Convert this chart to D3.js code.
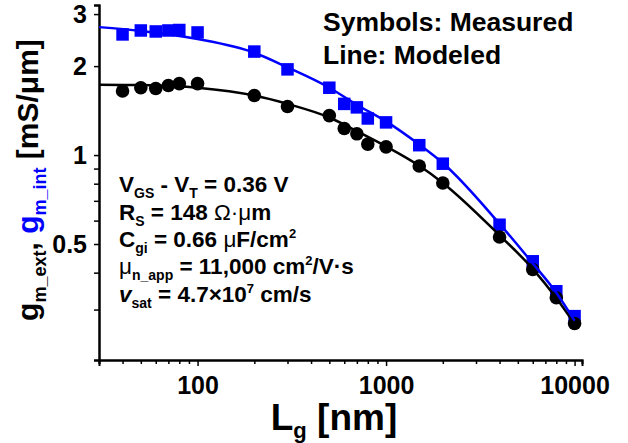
<!DOCTYPE html>
<html>
<head>
<meta charset="utf-8">
<script src="https://cdn.jsdelivr.net/npm/d3@7"></script>
<style>
  html, body { margin: 0; padding: 0; background: #fff; }
  svg { display: block; }
  text { font-family: Arial, "Liberation Sans", sans-serif; font-weight: bold; }
</style>
</head>
<body>
<svg id="chart" width="628" height="443"></svg>
<script>
// ---- data ----
const gateLength = [40, 50, 60, 70, 80, 100, 200, 300, 500, 600, 700, 800, 1000, 1500, 2000, 4000, 6000, 8000, 10000];
const gmIntMeasured = [2.56, 2.64, 2.62, 2.64, 2.65, 2.60, 2.24, 1.95, 1.69, 1.49, 1.45, 1.33, 1.29, 1.08, 0.935, 0.581, 0.437, 0.346, 0.285];
const gmExtMeasured = [1.647, 1.69, 1.68, 1.72, 1.745, 1.745, 1.59, 1.46, 1.36, 1.23, 1.18, 1.089, 1.066, 0.918, 0.804, 0.528, 0.41, 0.329, 0.269];

const modelLength = [30, 50, 100, 200, 300, 500, 700, 1000, 1500, 2000, 4000, 6000, 8000, 10000];
const gmIntModel = [2.71, 2.63, 2.47, 2.22, 1.98, 1.69, 1.48, 1.30, 1.085, 0.94, 0.585, 0.43, 0.342, 0.275];
const gmExtModel = [1.731, 1.725, 1.69, 1.59, 1.49, 1.34, 1.205, 1.07, 0.92, 0.805, 0.535, 0.412, 0.328, 0.268];

const xMajorTicks = [100, 1000, 10000];
const xMinorTicks = [30, 40, 50, 60, 70, 80, 90, 200, 300, 400, 500, 600, 700, 800, 900, 2000, 3000, 4000, 5000, 6000, 7000, 8000, 9000];
const yMajorTicks = [0.5, 1, 2, 3];
const yMinorTicks = [0.3, 0.4, 0.6, 0.7, 0.8, 0.9];

const BLUE = "#0000ff";
const BLACK = "#000000";

// ---- scales ----
const svg = d3.select("#chart");
const x = d3.scaleLog().domain([30, 10950]).range([99, 582]);
const y = d3.scaleLog().domain([0.2025, 3.22]).range([360, 5]);

// ---- axes ----
const xAxisMajor = d3.axisBottom(x).tickValues(xMajorTicks).tickSize(6).tickPadding(10).tickFormat(d3.format("d"));
const xAxisMinor = d3.axisBottom(x).tickValues(xMinorTicks).tickSize(4).tickFormat("");
const yAxisMajor = d3.axisLeft(y).tickValues(yMajorTicks).tickSize(5).tickPadding(7).tickFormat(d => String(d));
const yAxisMinor = d3.axisLeft(y).tickValues(yMinorTicks).tickSize(5).tickFormat("");

function styleAxis(g) {
  g.select(".domain").attr("stroke", BLACK).attr("stroke-width", 2);
  g.selectAll(".tick line").attr("stroke", BLACK).attr("stroke-width", 1.5);
  g.selectAll(".tick text").attr("fill", BLACK).style("font-size", "25px")
    .style("font-family", 'Arial, "Liberation Sans", sans-serif').style("font-weight", "bold");
}

svg.append("g").attr("transform", "translate(0,360)").call(xAxisMinor).call(styleAxis);
svg.append("g").attr("transform", "translate(0,360)").call(xAxisMajor).call(styleAxis);
svg.append("g").attr("transform", "translate(99,0)").call(yAxisMinor).call(styleAxis);
svg.append("g").attr("transform", "translate(99,0)").call(yAxisMajor).call(styleAxis);

// ---- markers ----
const measured = gateLength.map((L, i) => ({L, int: gmIntMeasured[i], ext: gmExtMeasured[i]}));
const sq = 12.5;
svg.append("g").selectAll("rect").data(measured).enter().append("rect")
  .attr("x", d => x(d.L) - sq / 2).attr("y", d => y(d.int) - sq / 2)
  .attr("width", sq).attr("height", sq).attr("fill", BLUE);
svg.append("g").selectAll("circle").data(measured).enter().append("circle")
  .attr("cx", d => x(d.L)).attr("cy", d => y(d.ext)).attr("r", 6.8).attr("fill", BLACK);

// ---- model lines ----
const model = modelLength.map((L, i) => ({L, int: gmIntModel[i], ext: gmExtModel[i]}));
const lineExt = d3.line().x(d => x(d.L)).y(d => y(d.ext)).curve(d3.curveMonotoneX);
const lineInt = d3.line().x(d => x(d.L)).y(d => y(d.int)).curve(d3.curveMonotoneX);
svg.append("path").datum(model).attr("d", lineExt).attr("fill", "none").attr("stroke", BLACK).attr("stroke-width", 2.5);
svg.append("path").datum(model).attr("d", lineInt).attr("fill", "none").attr("stroke", BLUE).attr("stroke-width", 2.5);

// ---- legend text ----
svg.append("text").attr("x", 323).attr("y", 31).style("font-size", "26.5px").text("Symbols: Measured");
svg.append("text").attr("x", 323).attr("y", 64).style("font-size", "26.5px").text("Line: Modeled");

// ---- parameter block ----
const params = svg.append("g").style("font-size", "22.5px");
function addLine(yPos, parts) {
  const t = params.append("text").attr("x", 119).attr("y", yPos);
  parts.forEach(p => {
    const ts = t.append("tspan").text(p.t);
    if (p.sub) ts.attr("dy", 6).style("font-size", "14px");
    if (p.sup) ts.attr("dy", -9).style("font-size", "13px");
    if (p.back) ts.attr("dy", p.back);
    if (p.it) ts.style("font-style", "italic");
    if (p.normal) ts.style("font-weight", "normal");
  });
}
addLine(192, [{t: "V"}, {t: "GS", sub: true}, {t: " - V", back: -6}, {t: "T", sub: true}, {t: " = 0.36 V", back: -6}]);
addLine(220, [{t: "R"}, {t: "S", sub: true}, {t: " = 148 ", back: -6}, {t: "Ω·μ", normal: true}, {t: "m"}]);
addLine(247, [{t: "C"}, {t: "gi", sub: true}, {t: " = 0.66 ", back: -6}, {t: "μ", normal: true}, {t: "F/cm"}, {t: "2", sup: true}]);
addLine(274, [{t: "μ", normal: true}, {t: "n_app", sub: true}, {t: " = 11,000 cm", back: -6}, {t: "2", sup: true}, {t: "/V·s", back: 9}]);
addLine(302, [{t: "v", it: true}, {t: "sat", sub: true}, {t: " = 4.7×10", back: -6}, {t: "7", sup: true}, {t: " cm/s", back: 9}]);

// ---- axis titles ----
const xt = svg.append("text").attr("x", 334).attr("y", 430).attr("text-anchor", "middle").style("font-size", "37px");
xt.append("tspan").text("L");
xt.append("tspan").text("g").attr("dy", 8).style("font-size", "22px");
xt.append("tspan").text(" [nm]").attr("dy", -8);

const yt = svg.append("text").attr("transform", "translate(38,180) rotate(-90)").attr("text-anchor", "middle").style("font-size", "30px");
yt.append("tspan").text("g").attr("fill", BLACK);
yt.append("tspan").text("m_ext").attr("dy", 8).style("font-size", "18px").attr("fill", BLACK);
yt.append("tspan").text(", ").attr("dy", -8).attr("fill", BLACK);
yt.append("tspan").text("g").attr("fill", BLUE);
yt.append("tspan").text("m_int").attr("dy", 8).style("font-size", "18px").attr("fill", BLUE);
yt.append("tspan").text(" [mS/μm]").attr("dy", -8).attr("fill", BLACK);
</script>
</body>
</html>
